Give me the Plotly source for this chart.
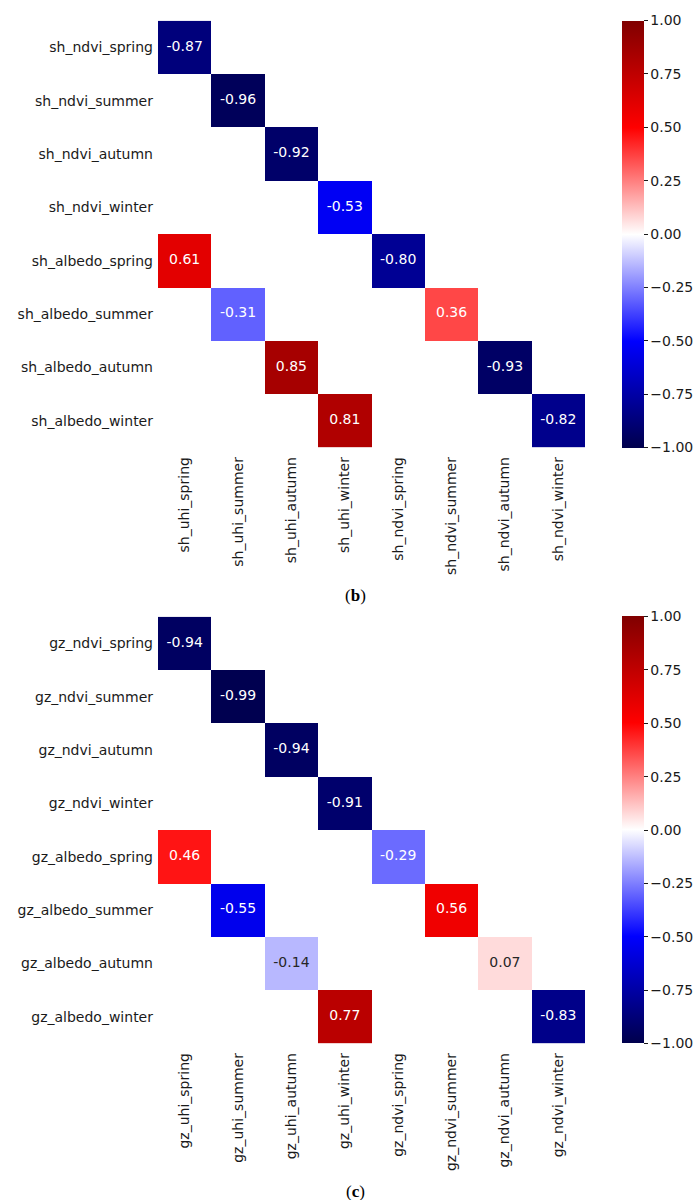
import plotly.graph_objects as go

# ---------------- data ----------------
sh_rows = ["sh_ndvi_spring", "sh_ndvi_summer", "sh_ndvi_autumn", "sh_ndvi_winter",
           "sh_albedo_spring", "sh_albedo_summer", "sh_albedo_autumn", "sh_albedo_winter"]
sh_cols = ["sh_uhi_spring", "sh_uhi_summer", "sh_uhi_autumn", "sh_uhi_winter",
           "sh_ndvi_spring", "sh_ndvi_summer", "sh_ndvi_autumn", "sh_ndvi_winter"]
N = None
sh_values = [
    [-0.87, N, N, N, N, N, N, N],
    [N, -0.96, N, N, N, N, N, N],
    [N, N, -0.92, N, N, N, N, N],
    [N, N, N, -0.53, N, N, N, N],
    [0.61, N, N, N, -0.80, N, N, N],
    [N, -0.31, N, N, N, 0.36, N, N],
    [N, N, 0.85, N, N, N, -0.93, N],
    [N, N, N, 0.81, N, N, N, -0.82],
]

gz_rows = ["gz_ndvi_spring", "gz_ndvi_summer", "gz_ndvi_autumn", "gz_ndvi_winter",
           "gz_albedo_spring", "gz_albedo_summer", "gz_albedo_autumn", "gz_albedo_winter"]
gz_cols = ["gz_uhi_spring", "gz_uhi_summer", "gz_uhi_autumn", "gz_uhi_winter",
           "gz_ndvi_spring", "gz_ndvi_summer", "gz_ndvi_autumn", "gz_ndvi_winter"]
gz_values = [
    [-0.94, N, N, N, N, N, N, N],
    [N, -0.99, N, N, N, N, N, N],
    [N, N, -0.94, N, N, N, N, N],
    [N, N, N, -0.91, N, N, N, N],
    [0.46, N, N, N, -0.29, N, N, N],
    [N, -0.55, N, N, N, 0.56, N, N],
    [N, N, -0.14, N, N, N, 0.07, N],
    [N, N, N, 0.77, N, N, N, -0.83],
]

panel_labels = ["(<b>b</b>)", "(<b>c</b>)"]
cbar_ticks = [-1.0, -0.75, -0.5, -0.25, 0.0, 0.25, 0.5, 0.75, 1.0]

# ---------------- style ----------------
W, H = 693, 1200
seismic_stops = [(0.0, (0.0, 0.0, 0.3)), (0.25, (0.0, 0.0, 1.0)), (0.5, (1.0, 1.0, 1.0)),
                 (0.75, (1.0, 0.0, 0.0)), (1.0, (0.5, 0.0, 0.0))]
colorscale = [[p, "rgb(%d,%d,%d)" % tuple(round(c * 255) for c in rgb)] for p, rgb in seismic_stops]


def seismic_rgb(v):
    p = (v + 1) / 2
    for (p0, c0), (p1, c1) in zip(seismic_stops[:-1], seismic_stops[1:]):
        if p0 <= p <= p1:
            t = (p - p0) / (p1 - p0)
            return tuple(a + (b - a) * t for a, b in zip(c0, c1))
    return seismic_stops[-1][1]


def text_color(v):
    rgb = seismic_rgb(v)
    lin = [c / 12.92 if c <= 0.03928 else ((c + 0.055) / 1.055) ** 2.4 for c in rgb]
    lum = 0.2126 * lin[0] + 0.7152 * lin[1] + 0.0722 * lin[2]
    return "#262626" if lum > 0.408 else "white"


FONT = "DejaVu Sans"
TXT = "#1a1a1a"

x0, x1 = 158 / W, 585 / W
domains = [(1 - 447.3 / H, 1 - 20.7 / H), (1 - 1043.3 / H, 1 - 616.7 / H)]
cbar_x = 621.7 / W
label_y = [1 - 595 / H, 1 - 1191 / H]

fig = go.Figure()
panels = [(sh_rows, sh_cols, sh_values), (gz_rows, gz_cols, gz_values)]
for i, (rows, cols, vals) in enumerate(panels):
    xa = "x" if i == 0 else "x2"
    ya = "y" if i == 0 else "y2"
    d0, d1 = domains[i]
    fig.add_trace(go.Heatmap(
        z=vals, x=cols, y=rows, xaxis=xa, yaxis=ya,
        colorscale=colorscale, zmin=-1, zmax=1, hoverongaps=False,
        colorbar=dict(
            x=cbar_x, xanchor="left", xpad=0, ypad=0, thickness=21.6, thicknessmode="pixels",
            y=(d0 + d1) / 2, yanchor="middle", len=d1 - d0, lenmode="fraction",
            outlinewidth=0, tickvals=cbar_ticks, tickformat=".2f",
            ticks="outside", ticklen=4, tickwidth=1, tickcolor=TXT,
            tickfont=dict(family=FONT, size=14, color=TXT),
        ),
    ))
    tx, ty, tt, tc = [], [], [], []
    for r, row in enumerate(vals):
        for c, v in enumerate(row):
            if v is None:
                continue
            tx.append(cols[c]); ty.append(rows[r]); tt.append(f"{v:.2f}"); tc.append(text_color(v))
    fig.add_trace(go.Scatter(
        x=tx, y=ty, xaxis=xa, yaxis=ya, mode="text", text=tt,
        textfont=dict(family=FONT, size=14, color=tc), hoverinfo="skip", showlegend=False,
    ))
    axkw = dict(showgrid=False, zeroline=False, showline=False, ticks="")
    xname = "xaxis" if i == 0 else "xaxis2"
    yname = "yaxis" if i == 0 else "yaxis2"
    fig.update_layout({
        xname: dict(domain=[x0, x1], anchor=ya, tickangle=-90, categoryorder="array",
                    categoryarray=cols, range=[-0.5, 7.5], ticklabelstandoff=6,
                    tickfont=dict(family=FONT, size=14, color=TXT), **axkw),
        yname: dict(domain=[d0, d1], anchor=xa, categoryorder="array", categoryarray=rows,
                    range=[7.5, -0.5], ticklabelstandoff=4,
                    tickfont=dict(family=FONT, size=14, color=TXT), **axkw),
    })
    fig.add_annotation(x=355 / W, y=label_y[i], xref="paper", yref="paper", text=panel_labels[i],
                       showarrow=False, xanchor="center", yanchor="middle",
                       font=dict(family="Liberation Serif", size=17, color="black"))

fig.update_layout(width=W, height=H, margin=dict(l=0, r=0, t=0, b=0),
                  paper_bgcolor="white", plot_bgcolor="white", showlegend=False)
fig.write_html("out.html")
